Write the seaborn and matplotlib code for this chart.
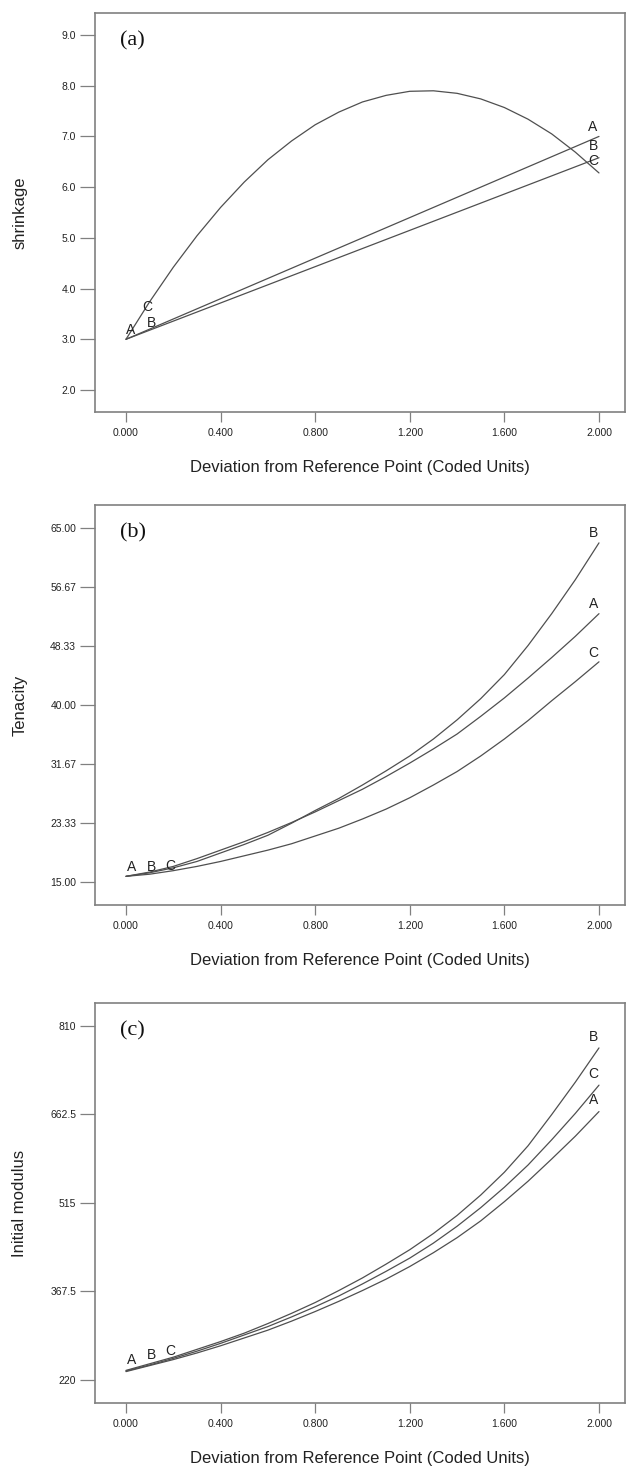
import matplotlib
matplotlib.use("Agg")
import matplotlib.pyplot as plt
import seaborn as sns
import pandas as pd

# ---------------- data ----------------
x_fine = [0.0, 0.1, 0.2, 0.3, 0.4, 0.5, 0.6, 0.7, 0.8, 0.9, 1.0,
          1.1, 1.2, 1.3, 1.4, 1.5, 1.6, 1.7, 1.8, 1.9, 2.0]

# Panel (a): shrinkage
shrink_C = [3.00, 3.74, 4.42, 5.04, 5.60, 6.10, 6.54, 6.91, 7.23, 7.48, 7.68,
            7.81, 7.89, 7.90, 7.85, 7.74, 7.57, 7.34, 7.05, 6.69, 6.28]
x_a_line = [0.0, 2.0]
shrink_A = [3.00, 7.00]
shrink_B = [3.00, 6.58]

# Panel (b): tenacity
ten_A = [15.8, 16.4, 17.2, 18.3, 19.5, 20.7, 22.0, 23.4, 24.9, 26.5, 28.1,
         29.9, 31.8, 33.8, 35.9, 38.4, 41.0, 43.8, 46.7, 49.7, 52.9]
ten_B = [15.8, 16.3, 17.0, 17.9, 19.1, 20.3, 21.6, 23.3, 25.1, 26.8, 28.7,
         30.7, 32.8, 35.2, 37.9, 40.9, 44.3, 48.4, 52.9, 57.7, 62.9]
ten_C = [15.8, 16.1, 16.6, 17.2, 17.9, 18.7, 19.5, 20.4, 21.5, 22.6, 23.9,
         25.3, 26.9, 28.7, 30.6, 32.8, 35.2, 37.8, 40.6, 43.3, 46.1]

# Panel (c): initial modulus
mod_A = [234, 244, 254, 265, 277, 290, 303, 318, 334, 351, 369,
         388, 409, 432, 457, 485, 517, 551, 588, 626, 667]
mod_B = [236, 247, 258, 271, 284, 298, 314, 331, 349, 369, 390,
         413, 437, 464, 494, 528, 566, 610, 662, 716, 773]
mod_C = [235, 245, 256, 268, 281, 295, 309, 325, 342, 360, 380,
         401, 423, 448, 476, 507, 541, 578, 620, 664, 711]

x_ticks = [0.0, 0.4, 0.8, 1.2, 1.6, 2.0]
x_ticklabels = ["0.000", "0.400", "0.800", "1.200", "1.600", "2.000"]
yt_a = [2.0, 3.0, 4.0, 5.0, 6.0, 7.0, 8.0, 9.0]
ytl_a = ["2.0", "3.0", "4.0", "5.0", "6.0", "7.0", "8.0", "9.0"]
yt_b = [15.00, 23.33, 31.67, 40.00, 48.33, 56.67, 65.00]
ytl_b = ["15.00", "23.33", "31.67", "40.00", "48.33", "56.67", "65.00"]
yt_c = [220, 367.5, 515, 662.5, 810]
ytl_c = ["220", "367.5", "515", "662.5", "810"]

xlabel = "Deviation from Reference Point (Coded Units)"
ylabels = ["shrinkage", "Tenacity", "Initial modulus"]
panel_tags = ["(a)", "(b)", "(c)"]

# ---------------- figure ----------------
sns.set_style("white")
plt.rcParams["font.family"] = ["Liberation Sans", "DejaVu Sans"]

LINE = "#4f4f4f"
SPINE = "#808080"
TXT = "#222222"

fig = plt.figure(figsize=(6.26, 14.68), dpi=100)
W, H = 626.0, 1468.0
left_px, right_px = 95, 625
boxes = [(13, 412), (505, 905), (1003, 1403)]
axes = []
for top, bot in boxes:
    ax = fig.add_axes([left_px / W, 1 - bot / H, (right_px - left_px) / W, (bot - top) / H])
    axes.append(ax)

def long_df(parts):
    frames = []
    for name, xs, ys in parts:
        frames.append(pd.DataFrame({"x": xs, "y": ys, "series": name}))
    return pd.concat(frames, ignore_index=True)

dfa = long_df([("A", x_a_line, shrink_A), ("B", x_a_line, shrink_B), ("C", x_fine, shrink_C)])
dfb = long_df([("A", x_fine, ten_A), ("B", x_fine, ten_B), ("C", x_fine, ten_C)])
dfc = long_df([("A", x_fine, mod_A), ("B", x_fine, mod_B), ("C", x_fine, mod_C)])

pal = {"A": LINE, "B": LINE, "C": LINE}
for ax, df in zip(axes, [dfa, dfb, dfc]):
    sns.lineplot(data=df, x="x", y="y", hue="series", palette=pal, estimator=None,
                 sort=True, legend=False, linewidth=0.9, ax=ax)

ylims = [(1.566, 9.434), (11.75, 68.25), (181.7, 847.8)]
yts = [(yt_a, ytl_a), (yt_b, ytl_b), (yt_c, ytl_c)]
for i, ax in enumerate(axes):
    ax.set_xlim(-0.131, 2.11)
    ax.set_ylim(*ylims[i])
    ax.set_xticks(x_ticks)
    ax.set_xticklabels(x_ticklabels)
    ax.set_yticks(yts[i][0])
    ax.set_yticklabels(yts[i][1])
    ax.tick_params(axis="x", direction="out", length=7.2, width=0.9, color=SPINE,
                   labelsize=7.5, labelcolor=TXT, pad=4, bottom=True)
    ax.tick_params(axis="y", direction="out", length=10.5, width=0.9, color=SPINE,
                   labelsize=7.5, labelcolor=TXT, pad=3, left=True)
    for s in ax.spines.values():
        s.set_visible(True)
        s.set_color(SPINE)
        s.set_linewidth(1.2)
    ax.set_xlabel(xlabel, fontsize=12, color=TXT)
    ax.xaxis.set_label_coords(0.5, -0.14)
    ax.xaxis.label.set_va("center")
    ax.set_ylabel(ylabels[i], fontsize=12, color=TXT)
    ax.yaxis.set_label_coords(-0.142, 0.5)
    ax.yaxis.label.set_va("center")
    ax.text(0.048, 0.93, panel_tags[i], transform=ax.transAxes, fontsize=16,
            family="Liberation Serif", color="#111111", ha="left", va="center")

# curve labels
lab_kw = dict(fontsize=10, color=TXT, ha="center", va="center")
ax = axes[0]
for s, (x, y) in {"A": (0.02, 3.18), "B": (0.106, 3.33), "C": (0.088, 3.63)}.items():
    ax.text(x, y, s, **lab_kw)
for s, (x, y) in {"A": (1.975, 7.19), "B": (1.975, 6.82), "C": (1.975, 6.52)}.items():
    ax.text(x, y, s, **lab_kw)
ax = axes[1]
for s, (x, y) in {"A": (0.024, 17.1), "B": (0.109, 17.1), "C": (0.186, 17.2)}.items():
    ax.text(x, y, s, **lab_kw)
for s, (x, y) in {"B": (1.976, 64.3), "A": (1.976, 54.2), "C": (1.976, 47.4)}.items():
    ax.text(x, y, s, **lab_kw)
ax = axes[2]
for s, (x, y) in {"A": (0.024, 253), "B": (0.109, 261), "C": (0.186, 269)}.items():
    ax.text(x, y, s, **lab_kw)
for s, (x, y) in {"B": (1.976, 792), "C": (1.976, 730), "A": (1.976, 686)}.items():
    ax.text(x, y, s, **lab_kw)

fig.savefig("out.png", dpi=100)
